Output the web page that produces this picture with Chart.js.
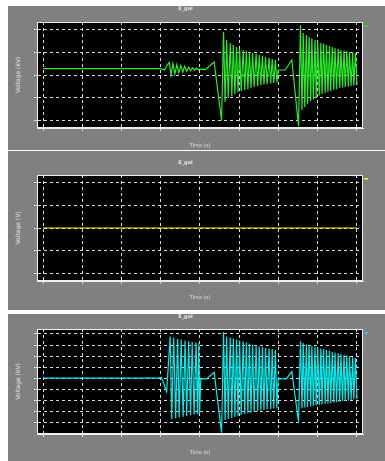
<!DOCTYPE html>
<html>
<head>
<meta charset="utf-8">
<script src="https://cdn.jsdelivr.net/npm/chart.js@4/dist/chart.umd.min.js"></script>
<style>
body{margin:0;background:#fff;width:385px;height:461px;overflow:hidden;position:relative}
.panel{position:absolute;left:8px;width:377px;background:#808080}
</style>
</head>
<body>
<div class="panel" style="top:6px;height:144px"><canvas id="c1"></canvas></div>
<div class="panel" style="top:151px;height:159px"><canvas id="c2"></canvas></div>
<div class="panel" style="top:314px;height:147px"><canvas id="c3"></canvas></div>
<script>

// time axis (s) and grid values
var xTicks = [0,1,2,3,4,5,6,7,8];
var topTicks = [-2,-1,0,1,2];
var midTicks = [-2,-1,0,1,2];
var lowTicks = [-4,-3,-2,-1,0,1,2,3,4];

// panel 1 (green)
var topTime = [0,3.0,3.10,3.17,3.22,3.26,3.31,3.36,3.41,3.46,3.51,3.56,3.61,3.66,3.71,3.76,3.81,3.86,3.91,3.96,4.0,4.15,4.36,4.55,
	4.60,4.64,4.68,4.72,4.77,4.81,4.85,4.89,4.93,4.97,5.01,5.05,5.10,5.14,5.18,5.22,5.26,5.30,5.34,5.38,5.43,5.47,5.51,5.55,5.59,5.63,5.67,5.71,5.76,5.80,5.84,5.88,5.92,5.96,
	5.99,6.17,6.34,6.51,
	6.56,6.60,6.63,6.67,6.71,6.74,6.78,6.82,6.85,6.89,6.93,6.96,7.00,7.04,7.08,7.11,7.15,7.19,7.22,7.26,7.30,7.33,7.37,7.41,7.44,7.48,7.52,7.56,7.59,7.63,7.67,7.70,7.74,7.78,7.81,7.85,7.89,7.92,7.96,8.00];
var topVolt = [0.28,0.28,0.22,0.45,0.55,0.0,0.50,0.05,0.46,0.09,0.42,0.13,0.38,0.16,0.35,0.19,0.32,0.21,0.30,0.23,0.26,0.25,0.57,-2.0,
	1.89,-1.19,1.54,-1.01,1.41,-0.93,1.32,-0.84,1.23,-0.75,1.15,-0.70,1.10,-0.66,1.06,-0.62,1.01,-0.57,0.97,-0.53,0.93,-0.48,0.88,-0.44,0.84,-0.42,0.79,-0.40,0.75,-0.37,0.70,-0.35,0.66,-0.33,
	0.22,0.22,0.66,-2.25,
	2.2,-1.54,1.85,-1.41,1.76,-1.28,1.67,-1.15,1.61,-1.06,1.54,-0.97,1.48,-0.90,1.41,-0.84,1.37,-0.79,1.32,-0.75,1.28,-0.70,1.23,-0.66,1.19,-0.62,1.15,-0.57,1.10,-0.55,1.08,-0.53,1.06,-0.51,1.01,-0.48,0.99,-0.46,0.97,-0.44];

// panel 2 (yellow)
var midTime = [0,8];
var midVolt = [0,0];

// panel 3 (cyan)
var lowTime = [0,2.9,3.02,3.15,
	3.24,3.28,3.33,3.38,3.43,3.47,3.52,3.57,3.62,3.66,3.71,3.76,3.80,3.85,3.90,3.94,3.97,3.99,
	4.02,4.17,4.36,4.55,
	4.60,4.64,4.68,4.72,4.77,4.81,4.85,4.89,4.93,4.97,5.01,5.05,5.10,5.14,5.18,5.22,5.26,5.30,5.34,5.38,5.43,5.47,5.51,5.55,5.59,5.63,5.67,5.71,5.76,5.80,5.84,5.88,5.92,5.96,
	5.99,6.2,6.34,6.51,
	6.56,6.60,6.63,6.67,6.71,6.74,6.78,6.82,6.85,6.89,6.93,6.96,7.00,7.04,7.08,7.11,7.15,7.19,7.22,7.26,7.30,7.33,7.37,7.41,7.44,7.48,7.52,7.56,7.59,7.63,7.67,7.70,7.74,7.78,7.81,7.85,7.89,7.92,7.96,8.00];
var lowVolt = [0,0,0.05,-1.21,
	3.77,-3.71,3.65,-3.62,3.55,-3.53,3.47,-3.48,3.41,-3.41,3.35,-3.35,3.29,-3.30,3.23,-3.26,3.17,-3.2,
	-0.06,-0.06,0.54,-4.93,
	4.17,-3.78,3.77,-3.69,3.68,-3.6,3.59,-3.5,3.50,-3.41,3.41,-3.32,3.32,-3.23,3.22,-3.17,3.13,-3.12,3.04,-3.05,2.95,-2.99,2.86,-2.93,2.81,-2.87,2.74,-2.83,2.68,-2.78,2.63,-2.75,2.56,-2.72,
	-0.06,-0.06,0.6,-3.94,
	3.33,-2.72,3.18,-2.65,3.08,-2.6,3.0,-2.55,2.92,-2.5,2.84,-2.45,2.76,-2.41,2.68,-2.37,2.61,-2.33,2.54,-2.29,2.47,-2.25,2.40,-2.21,2.33,-2.17,2.26,-2.13,2.19,-2.09,2.12,-2.05,2.05,-2.01,1.98,-1.97,1.90,-1.93,1.82,-1.9];

var textColor = '#e6e6e6';
var fontFam = 'DejaVu Sans';

function toPoints(t, v){
	return t.map(function(x, i){ return {x: x, y: v[i]}; });
}

// black plot area, white frame, little legend dash
var frame = {
	id: 'frame',
	beforeDraw: function(chart){
		var a = chart.chartArea, ctx = chart.ctx;
		ctx.save();
		ctx.fillStyle = '#000';
		ctx.fillRect(a.left, a.top, a.right - a.left, a.bottom - a.top);
		ctx.restore();
	},
	afterDraw: function(chart){
		var a = chart.chartArea, ctx = chart.ctx;
		ctx.save();
		ctx.strokeStyle = '#f0f0f0';
		ctx.lineWidth = 1;
		ctx.strokeRect(a.left + 0.5, a.top + 0.5, a.right - a.left - 1, a.bottom - a.top - 1);
		ctx.fillStyle = chart.data.datasets[0].borderColor;
		ctx.fillRect(a.right + 1, a.top + 3, 4, 1.5);
		ctx.restore();
	}
};

function makePanel(id, title, yTitle, time, volt, color, yMin, yMax, yTicks, pad){

	var ctx = document.getElementById(id).getContext('2d');
	return new Chart(ctx, {
		type: 'line',
		data: {
			datasets: [{
				label: title,
				data: toPoints(time, volt),
				borderColor: color,
				borderWidth: 1.2,
				pointRadius: 0,
				tension: 0
			}]
		},
		options: {
			responsive: true,
			maintainAspectRatio: false,
			animation: false,
			layout: { autoPadding: false, padding: {left: 0, right: 22, top: 0, bottom: 0} },
			plugins: {
				legend: { display: false },
				tooltip: { enabled: false },
				title: {
					display: true,
					text: title,
					color: textColor,
					font: { size: 5, family: fontFam },
					padding: { top: pad.titleTop, bottom: pad.titleBottom }
				}
			},
			scales: {
				x: {
					type: 'linear',
					min: -0.153, max: 8.153,
					afterBuildTicks: function(s){ s.ticks = xTicks.map(function(v){ return {value: v}; }); },
					afterFit: function(s){ s.height = pad.xHeight; },
					ticks: { display: false },
					grid: { color: '#d8d8d8', lineWidth: 1, borderDash: [3,3], drawTicks: true, tickLength: 3, tickColor: '#d8d8d8', tickBorderDash: [] },
					border: { display: true, color: '#f0f0f0', width: 1, dash: [3,3] },
					title: { display: true, text: 'Time (s)', color: textColor, font: { size: 5, family: fontFam }, padding: { top: 0, bottom: pad.xTitleBottom } }
				},
				y: {
					type: 'linear',
					min: yMin, max: yMax,
					afterBuildTicks: function(s){ s.ticks = yTicks.map(function(v){ return {value: v}; }); },
					afterFit: function(s){ s.width = 29; },
					ticks: { display: false },
					grid: { color: '#d8d8d8', lineWidth: 1, borderDash: [3,3], drawTicks: true, tickLength: 3, tickColor: '#d8d8d8', tickBorderDash: [] },
					border: { display: true, color: '#f0f0f0', width: 1, dash: [3,3] },
					title: { display: true, text: yTitle, color: textColor, font: { size: 6, family: fontFam }, padding: { top: 6.4, bottom: 0 } }
				}
			}
		},
		plugins: [frame]
	});

}

makePanel('c1', 'E_gal', 'Voltage (kV)', topTime, topVolt, 'rgb(40,235,40)', -2.33, 2.33, topTicks,
	{titleTop: 0, titleBottom: 10, xHeight: 22, xTitleBottom: 1});
makePanel('c2', 'E_gal', 'Voltage (V)', midTime, midVolt, 'rgb(255,255,0)', -2.33, 2.33, midTicks,
	{titleTop: 9, titleBottom: 9, xHeight: 29, xTitleBottom: 9});
makePanel('c3', 'E_gal', 'Voltage (kV)', lowTime, lowVolt, 'rgb(0,235,235)', -5.05, 4.45, lowTicks,
	{titleTop: 0, titleBottom: 9, xHeight: 27, xTitleBottom: 5.3});

</script>
</body>
</html>
